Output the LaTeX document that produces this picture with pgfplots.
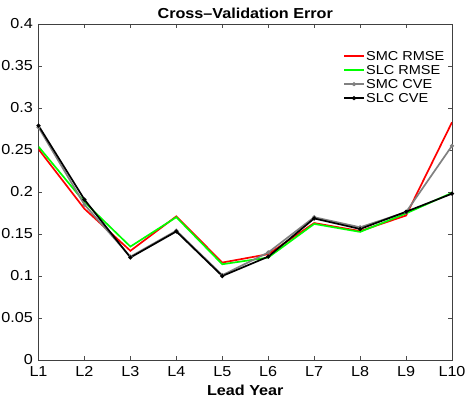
\documentclass[border=0pt]{standalone}
\usepackage{fontspec}
\setmainfont[FakeStretch=1.12]{Liberation Sans}
\usepackage{pgfplots}
\pgfplotsset{compat=1.18}
\begin{document}
\begin{tikzpicture}
\begin{axis}[
  scale only axis,
  width=413.5bp, height=336bp,
  xmin=1, xmax=10, ymin=0, ymax=0.4,
  xtick={1,...,10},
  xticklabels={L1,L2,L3,L4,L5,L6,L7,L8,L9,L10},
  ytick={0,0.05,0.1,0.15,0.2,0.25,0.3,0.35,0.4},
  yticklabels={0,0.05,0.1,0.15,0.2,0.25,0.3,0.35,0.4},
  tick align=inside,
  major tick length=4bp,
  tick style={black!70, line width=0.5pt},
  axis line style={black!75, line width=0.6pt},
  ticklabel style={font=\fontsize{14.5}{16}\selectfont},
  xticklabel style={yshift=-3bp},
  yticklabel style={xshift=-2bp},
  /pgf/number format/assume math mode=true,
  title={\fontsize{14.5}{16}\selectfont\bfseries Cross–Validation Error},
  title style={yshift=-4bp},
  xlabel={\fontsize{14.5}{16}\selectfont\bfseries Lead Year},
  xlabel style={yshift=-1bp},
  legend style={at={(1,1)}, anchor=north east, xshift=-6bp, yshift=-25bp,
    draw=none, fill=none, font=\fontsize{13}{14}\selectfont,
    row sep=0pt, inner sep=0pt,
    nodes={inner sep=1.5pt, text height=10bp, text depth=1bp}},
  legend cell align=left,
  legend image post style={xscale=1.15},
]
\addplot[red, line width=1.7pt] coordinates {
(1,0.251) (2,0.180) (3,0.130) (4,0.171) (5,0.116) (6,0.126) (7,0.163) (8,0.1535) (9,0.172) (10,0.283)};
\addlegendentry{SMC RMSE}
\addplot[green, line width=1.7pt] coordinates {
(1,0.254) (2,0.188) (3,0.135) (4,0.170) (5,0.114) (6,0.122) (7,0.162) (8,0.1525) (9,0.1745) (10,0.199)};
\addlegendentry{SLC RMSE}
\addplot[gray, line width=1.7pt, mark=*, mark size=1.1pt] coordinates {
(1,0.277) (2,0.185) (3,0.123) (4,0.154) (5,0.101) (6,0.128) (7,0.170) (8,0.158) (9,0.176) (10,0.255)};
\addlegendentry{SMC CVE}
\addplot[black, line width=1.7pt, mark=*, mark size=1.1pt] coordinates {
(1,0.279) (2,0.191) (3,0.122) (4,0.153) (5,0.100) (6,0.123) (7,0.1685) (8,0.156) (9,0.1765) (10,0.198)};
\addlegendentry{SLC CVE}
\end{axis}
\pgfresetboundingbox
\path ([shift={(-38.5bp,-44bp)}]current axis.south west) rectangle ([shift={(14bp,24bp)}]current axis.north east);
\end{tikzpicture}
\end{document}
